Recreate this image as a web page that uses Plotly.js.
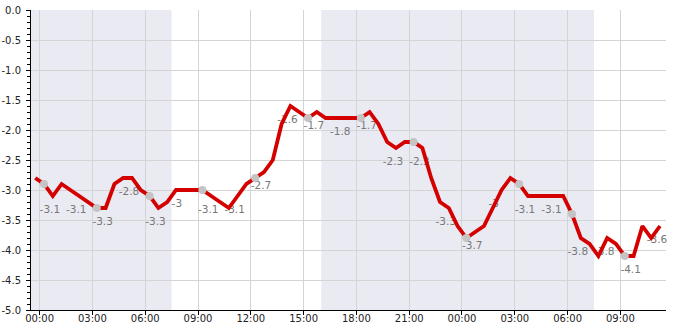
<!DOCTYPE html>
<html>
<head>
<meta charset="utf-8">
<script src="https://cdn.plot.ly/plotly-3.0.1.min.js"></script>
<style>html,body{margin:0;padding:0;background:#fff;}#chart{width:685px;height:330px;}</style>
</head>
<body>
<div id="chart"></div>
<script>
// Half-hourly temperature series
var times = [
  '2023-12-31 23:45','2024-01-01 00:15','2024-01-01 00:45','2024-01-01 01:15','2024-01-01 01:45','2024-01-01 02:15',
  '2024-01-01 02:45','2024-01-01 03:15','2024-01-01 03:45','2024-01-01 04:15','2024-01-01 04:45','2024-01-01 05:15',
  '2024-01-01 05:45','2024-01-01 06:15','2024-01-01 06:45','2024-01-01 07:15','2024-01-01 07:45','2024-01-01 08:15',
  '2024-01-01 08:45','2024-01-01 09:15','2024-01-01 09:45','2024-01-01 10:15','2024-01-01 10:45','2024-01-01 11:15',
  '2024-01-01 11:45','2024-01-01 12:15','2024-01-01 12:45','2024-01-01 13:15','2024-01-01 13:45','2024-01-01 14:15',
  '2024-01-01 14:45','2024-01-01 15:15','2024-01-01 15:45','2024-01-01 16:15','2024-01-01 16:45','2024-01-01 17:15',
  '2024-01-01 17:45','2024-01-01 18:15','2024-01-01 18:45','2024-01-01 19:15','2024-01-01 19:45','2024-01-01 20:15',
  '2024-01-01 20:45','2024-01-01 21:15','2024-01-01 21:45','2024-01-01 22:15','2024-01-01 22:45','2024-01-01 23:15',
  '2024-01-01 23:45','2024-01-02 00:15','2024-01-02 00:45','2024-01-02 01:15','2024-01-02 01:45','2024-01-02 02:15',
  '2024-01-02 02:45','2024-01-02 03:15','2024-01-02 03:45','2024-01-02 04:15','2024-01-02 04:45','2024-01-02 05:15',
  '2024-01-02 05:45','2024-01-02 06:15','2024-01-02 06:45','2024-01-02 07:15','2024-01-02 07:45','2024-01-02 08:15',
  '2024-01-02 08:45','2024-01-02 09:15','2024-01-02 09:45','2024-01-02 10:15','2024-01-02 10:45','2024-01-02 11:15'
];
var values = [
  -2.8,-2.9,-3.1,-2.9,-3.0,-3.1,
  -3.2,-3.3,-3.3,-2.9,-2.8,-2.8,
  -3.0,-3.1,-3.3,-3.2,-3.0,-3.0,
  -3.0,-3.0,-3.1,-3.2,-3.3,-3.1,
  -2.9,-2.8,-2.7,-2.5,-1.9,-1.6,
  -1.7,-1.8,-1.7,-1.8,-1.8,-1.8,
  -1.8,-1.8,-1.7,-1.9,-2.2,-2.3,
  -2.2,-2.2,-2.3,-2.8,-3.2,-3.3,
  -3.6,-3.8,-3.7,-3.6,-3.3,-3.0,
  -2.8,-2.9,-3.1,-3.1,-3.1,-3.1,
  -3.1,-3.4,-3.8,-3.9,-4.1,-3.8,
  -3.9,-4.1,-4.1,-3.6,-3.8,-3.6
];
// Value labels every 1.5 h
var labelTimes = [
  '2024-01-01 00:00','2024-01-01 01:30','2024-01-01 03:00','2024-01-01 04:30','2024-01-01 06:00','2024-01-01 07:30',
  '2024-01-01 09:00','2024-01-01 10:30','2024-01-01 12:00','2024-01-01 13:30','2024-01-01 15:00','2024-01-01 16:30',
  '2024-01-01 18:00','2024-01-01 19:30','2024-01-01 21:00','2024-01-01 22:30','2024-01-02 00:00','2024-01-02 01:30',
  '2024-01-02 03:00','2024-01-02 04:30','2024-01-02 06:00','2024-01-02 07:30','2024-01-02 09:00','2024-01-02 10:30'
];
var labelValues = [
  -3.1,-3.1,-3.3,-2.8,-3.3,-3,
  -3.1,-3.1,-2.7,-1.6,-1.7,-1.8,
  -1.7,-2.3,-2.3,-3.3,-3.7,-3,
  -3.1,-3.1,-3.8,-3.8,-4.1,-3.6
];
// Night periods (shaded)
var nightStarts = ['2023-12-31 16:00','2024-01-01 16:00'];
var nightEnds   = ['2024-01-01 07:30','2024-01-02 07:30'];
var yTickVals  = [0, -0.5, -1, -1.5, -2, -2.5, -3, -3.5, -4, -4.5, -5];
var yTickText  = ['0.0','-0.5','-1.0','-1.5','-2.0','-2.5','-3.0','-3.5','-4.0','-4.5','-5.0'];

var markerTimes = [], markerValues = [];
for (var i = 1; i < times.length; i += 6) { markerTimes.push(times[i]); markerValues.push(values[i]); }

var font = 'DejaVu Sans, sans-serif';
var xRange = ['2023-12-31 23:30:40', '2024-01-02 11:35:30'];
var yRange = [-5, 0];
var labelDrop = 0.15; // labels sit a little below their value (in y units)

var traces = [
  // labels on the hidden base axes (drawn beneath the line)
  {x: labelTimes, y: labelValues, xaxis: 'x', yaxis: 'y', mode: 'text', type: 'scatter',
   text: labelValues.map(function(v){ return String(v); }),
   textposition: 'bottom right', textfont: {family: font, size: 10.5, color: '#777777'},
   cliponaxis: false, hoverinfo: 'skip', showlegend: false},
  {x: times, y: values, xaxis: 'x2', yaxis: 'y2', mode: 'lines', type: 'scatter',
   line: {color: '#d40000', width: 3.8}, showlegend: false},
  {x: markerTimes, y: markerValues, xaxis: 'x2', yaxis: 'y2', mode: 'markers', type: 'scatter',
   marker: {color: '#c4c4c4', size: 8}, showlegend: false}
];

var shapes = nightStarts.map(function(s, i){
  return {type: 'rect', xref: 'x2', yref: 'paper', x0: s, x1: nightEnds[i], y0: 0, y1: 1,
          fillcolor: '#eaeaf2', line: {width: 0}, layer: 'below'};
});

var layout = {
  width: 685, height: 330,
  margin: {l: 31, r: 19, t: 10, b: 20, pad: 0},
  paper_bgcolor: '#ffffff', plot_bgcolor: '#ffffff',
  font: {family: font, size: 10, color: '#222222'},
  showlegend: false,
  shapes: shapes,
  xaxis: {type: 'date', range: xRange, visible: false, fixedrange: true},
  yaxis: {range: [yRange[0] + labelDrop, yRange[1] + labelDrop], visible: false, fixedrange: true},
  xaxis2: {
    type: 'date', range: xRange, overlaying: 'x', anchor: 'y2', side: 'bottom',
    tick0: '2024-01-01 00:00', dtick: 10800000, tickformat: '%H:%M',
    showgrid: true, gridcolor: '#d4d4d4', gridwidth: 1,
    showline: true, linecolor: '#000000', linewidth: 1,
    ticks: 'outside', ticklen: 4, tickcolor: '#000000', ticklabelstandoff: -5,
    zeroline: false, fixedrange: true
  },
  yaxis2: {
    range: yRange, overlaying: 'y', anchor: 'x2', side: 'left',
    tickmode: 'array', tickvals: yTickVals, ticktext: yTickText,
    showgrid: true, gridcolor: '#d4d4d4', gridwidth: 1,
    showline: true, linecolor: '#000000', linewidth: 1,
    ticks: 'outside', ticklen: 4, tickcolor: '#000000', ticklabelstandoff: 3,
    minor: {dtick: 0.1, ticks: 'outside', ticklen: 3, tickcolor: '#000000', showgrid: false},
    zeroline: false, fixedrange: true
  }
};

Plotly.newPlot('chart', traces, layout, {displayModeBar: false, staticPlot: true});
</script>
</body>
</html>
